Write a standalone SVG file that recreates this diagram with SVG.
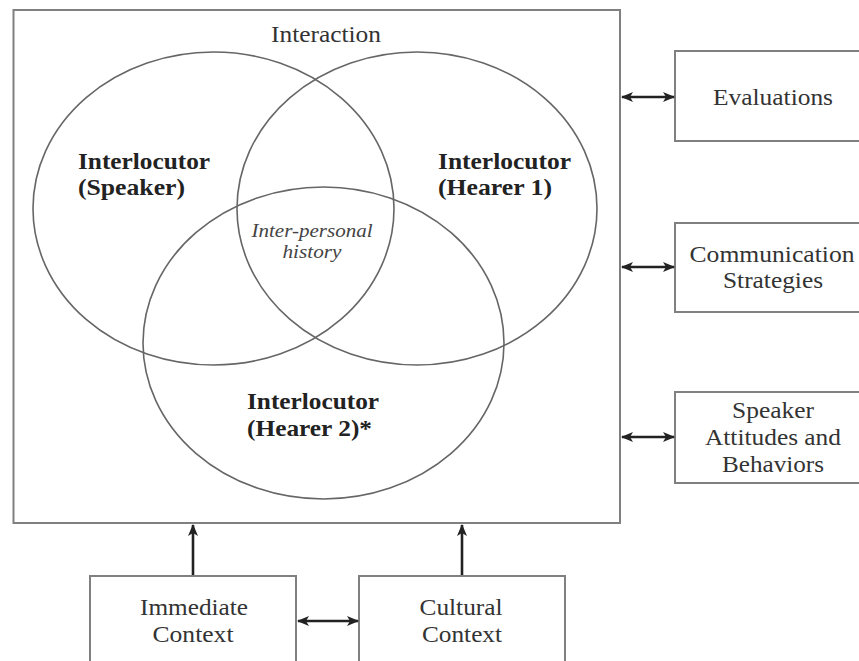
<svg xmlns="http://www.w3.org/2000/svg" width="859" height="661" viewBox="0 0 859 661">
  <defs>
    <style>
      .box { fill: #ffffff; stroke: #808080; stroke-width: 2; }
      .venn { fill: none; stroke: #666666; stroke-width: 1.6; }
      .lbl { font-family: 'Liberation Serif', 'Times New Roman', serif; font-size: 24px; fill: #333333; text-anchor: middle; }
      .bold { font-family: 'Liberation Serif', 'Times New Roman', serif; font-size: 24px; font-weight: bold; fill: #222222; }
      .ital { font-family: 'Liberation Serif', 'Times New Roman', serif; font-size: 19.5px; font-style: italic; fill: #444444; text-anchor: middle; }
      .conn { stroke: #222222; stroke-width: 2.6; fill: none; }
    </style>
    <marker id="ah" viewBox="0 0 12 10" refX="11" refY="5" markerWidth="12" markerHeight="10" markerUnits="userSpaceOnUse" orient="auto-start-reverse">
      <path d="M0,0 L12,5 L0,10 L3,5 z" fill="#222222"/>
    </marker>
  </defs>
  <rect width="859" height="661" fill="#ffffff"/>

  <g id="interaction">
    <rect class="box" x="13.5" y="10" width="606.5" height="513"/>
    <text class="lbl" x="326" y="42" textLength="110" lengthAdjust="spacingAndGlyphs">Interaction</text>
  </g>

  <g id="speaker">
    <ellipse class="venn" cx="213.5" cy="208.5" rx="180.5" ry="156.5"/>
    <text class="bold" x="78" y="169" textLength="132" lengthAdjust="spacingAndGlyphs">Interlocutor</text>
    <text class="bold" x="78" y="195" textLength="107" lengthAdjust="spacingAndGlyphs">(Speaker)</text>
  </g>

  <g id="hearer1">
    <ellipse class="venn" cx="417" cy="208.5" rx="180" ry="156.5"/>
    <text class="bold" x="438" y="169" textLength="133" lengthAdjust="spacingAndGlyphs">Interlocutor</text>
    <text class="bold" x="438" y="195" textLength="114" lengthAdjust="spacingAndGlyphs">(Hearer 1)</text>
  </g>

  <g id="hearer2">
    <ellipse class="venn" cx="323.5" cy="343" rx="180.5" ry="156"/>
    <text class="bold" x="247" y="409" textLength="132" lengthAdjust="spacingAndGlyphs">Interlocutor</text>
    <text class="bold" x="247" y="436" textLength="125" lengthAdjust="spacingAndGlyphs">(Hearer 2)*</text>
  </g>

  <g id="history">
    <text class="ital" x="312" y="237" textLength="121" lengthAdjust="spacingAndGlyphs">Inter-personal</text>
    <text class="ital" x="312" y="258" textLength="59" lengthAdjust="spacingAndGlyphs">history</text>
  </g>

  <g id="evaluations">
    <rect class="box" x="675" y="51" width="200" height="90"/>
    <text class="lbl" x="773" y="105" textLength="120" lengthAdjust="spacingAndGlyphs">Evaluations</text>
  </g>

  <g id="communication">
    <rect class="box" x="675" y="223" width="200" height="89"/>
    <text class="lbl" x="772" y="262" textLength="165" lengthAdjust="spacingAndGlyphs">Communication</text>
    <text class="lbl" x="773" y="288" textLength="100" lengthAdjust="spacingAndGlyphs">Strategies</text>
  </g>

  <g id="attitudes">
    <rect class="box" x="675" y="392" width="200" height="91"/>
    <text class="lbl" x="773" y="418" textLength="82" lengthAdjust="spacingAndGlyphs">Speaker</text>
    <text class="lbl" x="773" y="445" textLength="136" lengthAdjust="spacingAndGlyphs">Attitudes and</text>
    <text class="lbl" x="773" y="472" textLength="102" lengthAdjust="spacingAndGlyphs">Behaviors</text>
  </g>

  <g id="immediate">
    <rect class="box" x="90" y="576" width="206" height="120"/>
    <text class="lbl" x="194" y="615" textLength="108" lengthAdjust="spacingAndGlyphs">Immediate</text>
    <text class="lbl" x="193" y="642" textLength="81" lengthAdjust="spacingAndGlyphs">Context</text>
  </g>

  <g id="cultural">
    <rect class="box" x="359" y="576" width="206" height="120"/>
    <text class="lbl" x="461" y="615" textLength="83" lengthAdjust="spacingAndGlyphs">Cultural</text>
    <text class="lbl" x="462" y="642" textLength="80" lengthAdjust="spacingAndGlyphs">Context</text>
  </g>

  <g id="connectors">
    <line class="conn" x1="622" y1="97" x2="674" y2="97" marker-start="url(#ah)" marker-end="url(#ah)"/>
    <line class="conn" x1="622" y1="267" x2="674" y2="267" marker-start="url(#ah)" marker-end="url(#ah)"/>
    <line class="conn" x1="622" y1="437" x2="674" y2="437" marker-start="url(#ah)" marker-end="url(#ah)"/>
    <line class="conn" x1="193" y1="575" x2="193" y2="525" marker-end="url(#ah)"/>
    <line class="conn" x1="462" y1="575" x2="462" y2="525" marker-end="url(#ah)"/>
    <line class="conn" x1="298" y1="621" x2="358" y2="621" marker-start="url(#ah)" marker-end="url(#ah)"/>
  </g>
</svg>
